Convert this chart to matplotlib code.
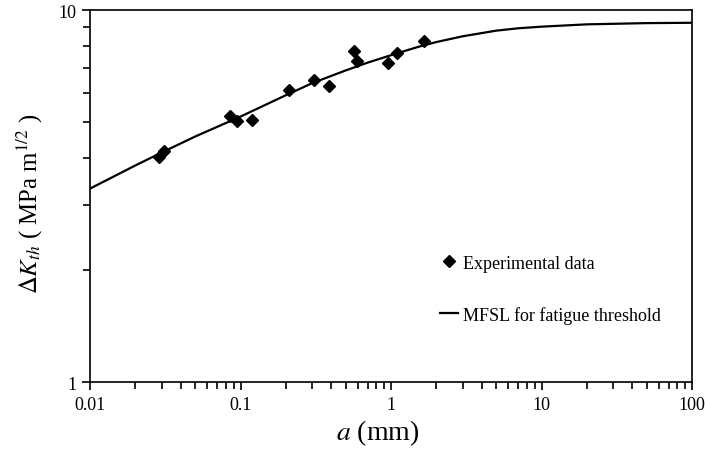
import matplotlib
matplotlib.use("Agg")
import matplotlib.pyplot as plt
from matplotlib.ticker import LogLocator, NullFormatter, FixedLocator, FixedFormatter

# Experimental data
exp_a = [0.0288, 0.0311, 0.0853, 0.095, 0.1197, 0.211, 0.309, 0.389, 0.570, 0.597, 0.962, 1.104, 1.667]
exp_dk = [4.03, 4.18, 5.19, 5.03, 5.06, 6.10, 6.48, 6.25, 7.76, 7.29, 7.20, 7.66, 8.26]

# MFSL curve
mfsl_a = [0.01, 0.02, 0.03, 0.05, 0.1, 0.2, 0.3, 0.5, 0.7, 1, 1.5, 2, 3, 5, 7, 10, 20, 50, 100]
mfsl_dk = [3.31, 3.82, 4.14, 4.57, 5.17, 5.90, 6.36, 6.88, 7.22, 7.56, 7.95, 8.20, 8.50, 8.80,
           8.93, 9.02, 9.15, 9.22, 9.24]

x_ticks = [0.01, 0.1, 1, 10, 100]
x_ticklabels = ["0.01", "0.1", "1", "10", "100"]
y_ticks = [1, 10]
y_ticklabels = ["1", "10"]

plt.rcParams['font.family'] = ['Liberation Serif', 'DejaVu Serif']
plt.rcParams['mathtext.fontset'] = 'stix'

fig = plt.figure(figsize=(7.05, 4.52), dpi=100)
ax = fig.add_axes([90/705, 1-383/452, (692-90)/705, (383-11)/452])

ax.plot(mfsl_a, mfsl_dk, color='black', lw=1.6, label='MFSL for fatigue threshold', zorder=2)
ax.plot(exp_a, exp_dk, linestyle='none', marker='D', ms=6, color='black',
        label='Experimental data', zorder=3)

ax.set_xscale('log')
ax.set_yscale('log')
ax.set_xlim(0.01, 100)
ax.set_ylim(1, 10)

ax.xaxis.set_major_locator(FixedLocator(x_ticks))
ax.xaxis.set_major_formatter(FixedFormatter(x_ticklabels))
ax.xaxis.set_minor_locator(LogLocator(base=10, subs=range(2, 10)))
ax.xaxis.set_minor_formatter(NullFormatter())
ax.yaxis.set_major_locator(FixedLocator(y_ticks))
ax.yaxis.set_major_formatter(FixedFormatter(y_ticklabels))
ax.yaxis.set_minor_locator(LogLocator(base=10, subs=range(2, 10)))
ax.yaxis.set_minor_formatter(NullFormatter())

ax.tick_params(which='both', direction='out', top=False, right=False, width=1.2, colors='black',
               labelsize=13)
ax.tick_params(which='major', length=6, pad=4)
ax.tick_params(which='minor', length=5)
for s in ax.spines.values():
    s.set_linewidth(1.2)
    s.set_color('black')

ax.set_xlabel(r'$a$ (mm)', fontsize=20)
ax.xaxis.set_label_coords((378-90)/(692-90), -0.095)
ax.set_ylabel(r'$\Delta K_{th}$ ( MPa m$^{1/2}$ )', fontsize=17.8)
ax.yaxis.set_label_coords(-0.074, (383-204)/372)

handles, labels = ax.get_legend_handles_labels()
leg = ax.legend(handles[::-1], labels[::-1], loc='upper left', bbox_to_anchor=(0.570, 0.362),
                frameon=False, fontsize=13, handlelength=1.0, handletextpad=0.25,
                labelspacing=1.9, borderaxespad=0)

fig.savefig('out.png', dpi=100)
